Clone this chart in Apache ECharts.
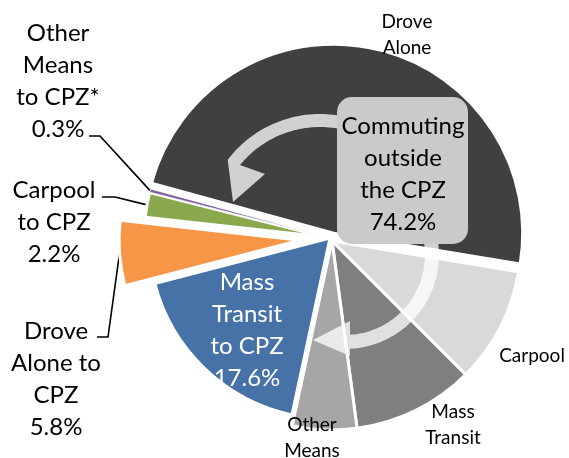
<!DOCTYPE html>
<html>
<head>
<meta charset="utf-8">
<script src="https://cdn.jsdelivr.net/npm/echarts@6/dist/echarts.min.js"></script>
<style>
html,body{margin:0;padding:0;background:#fff;}
#chart{width:569px;height:458px;}
</style>
</head>
<body>
<div id="chart"></div>
<script>
// ---- data ----
const categories = ['Drove Alone', 'Carpool', 'Mass Transit', 'Other Means',
  'Mass Transit to CPZ', 'Drove Alone to CPZ', 'Carpool to CPZ', 'Other Means to CPZ*'];
const shares = [48.4, 9.9, 10.4, 5.5, 17.6, 5.8, 2.2, 0.3];
const toCPZ = [false, false, false, false, true, true, true, true];
const labelLines = ['Drove\nAlone', 'Carpool', 'Mass\nTransit', 'Other\nMeans',
  'Mass\nTransit\nto CPZ', 'Drove\nAlone to\nCPZ', 'Carpool\nto CPZ', 'Other\nMeans\nto CPZ*'];
const outsideTitle = 'Commuting\noutside\nthe CPZ';

// ---- styles / layout ----
const sliceColors = ['#404040', '#d9d9d9', '#7f7f7f', '#a6a6a6', '#4672a8', '#f79646', '#8aa94f', '#7f63a1'];
const explode = [8, 0, 0, 0, 0, 30, 5, 5];
const START = 164.7;
const ringCenter = { outside: [332, 241], cpz: [330, 238] };
const ringRadius = { outside: 189, cpz: 181 };
const labelAt = [[407, 35], [532, 356], [453, 425], [312, 438], [247, 330], [56, 379], [54, 222], [58, 81]];
const leader = [null, null, null, null, null, [[108, 337], [97, 337]], [[115, 197], [102, 197]], [[100, 136], [89, 136]]];
const FONT = 'Lato';

const total = shares.reduce((a, b) => a + b, 0);
const outsideSum = shares.filter((v, i) => !toCPZ[i]).reduce((a, b) => a + b, 0);

function labelText(i) {
  return toCPZ[i] ? labelLines[i] + '\n' + shares[i].toFixed(1) + '%' : labelLines[i];
}

let cum = 0;
const series = categories.map((name, i) => {
  const startDeg = (360 - START) + cum / total * 360;
  const mid = (startDeg + shares[i] / total * 180) * Math.PI / 180;
  cum += shares[i];
  const base = toCPZ[i] ? ringCenter.cpz : ringCenter.outside;
  const center = [base[0] + explode[i] * Math.cos(mid), base[1] + explode[i] * Math.sin(mid)];
  const big = toCPZ[i];
  return {
    type: 'pie',
    silent: true,
    animation: false,
    startAngle: START,
    clockwise: true,
    center: center,
    radius: toCPZ[i] ? ringRadius.cpz : ringRadius.outside,
    avoidLabelOverlap: false,
    emphasis: { disabled: true },
    z: 2,
    data: categories.map((n, j) => ({
      name: n,
      value: shares[j],
      itemStyle: j === i
        ? { color: sliceColors[j], borderColor: '#ffffff', borderWidth: j === 7 ? 0.8 : 3 }
        : { color: 'rgba(0,0,0,0)', borderWidth: 0 },
      label: { show: j === i },
      labelLine: { show: j === i && !!leader[j] }
    })),
    label: {
      position: 'outside',
      formatter: (p) => labelText(p.dataIndex),
      fontFamily: FONT,
      fontSize: big ? 24 : 19,
      lineHeight: big ? 32 : 26,
      color: i === 4 ? '#ffffff' : '#000000',
      align: 'center'
    },
    labelLine: { length: 10, length2: 10, lineStyle: { color: '#000', width: 1.6 } },
    labelLayout: (p) => {
      const j = p.dataIndex;
      const pos = labelAt[j];
      const out = { x: pos[0], y: pos[1], align: 'center', verticalAlign: 'middle' };
      if (leader[j] && p.labelLinePoints) {
        out.labelLinePoints = [p.labelLinePoints[0], leader[j][0], leader[j][1]];
      }
      return out;
    }
  };
});

// ---- annotation arrows and box ----
function arcPts(cx, cy, r, a0, a1, n) {
  const pts = [];
  for (let k = 0; k <= n; k++) {
    const a = (a0 + (a1 - a0) * k / n) * Math.PI / 180;
    pts.push([cx + r * Math.cos(a), cy + r * Math.sin(a)]);
  }
  return pts;
}
const topArrow = [].concat(
  arcPts(320, 230, 116, 285, 217.3, 40),
  [[233, 202], [265, 174], [240, 165]],
  arcPts(320, 230, 103, 219.1, 285, 40)
);
const botArrow = [].concat(
  arcPts(345, 255, 94, -8, 87, 40),
  [[350, 356], [313, 340], [350, 321]],
  arcPts(345, 255, 80, 86.4, -8, 40)
);

const chart = echarts.init(document.getElementById('chart'), null, { renderer: 'canvas' });
chart.setOption({
  backgroundColor: '#ffffff',
  animation: false,
  series: series,
  graphic: [
    { type: 'polygon', shape: { points: topArrow }, style: { fill: 'rgba(255,255,255,0.76)' }, z: 100, silent: true },
    { type: 'polygon', shape: { points: botArrow }, style: { fill: 'rgba(255,255,255,0.76)' }, z: 100, silent: true },
    { type: 'rect', shape: { x: 337, y: 97, width: 131, height: 147, r: 15 }, style: { fill: '#cacaca' }, z: 101, silent: true },
    {
      type: 'text', x: 403, y: 174, z: 102, silent: true,
      style: {
        text: outsideTitle + '\n' + outsideSum.toFixed(1) + '%',
        fill: '#000', fontFamily: FONT, fontSize: 24, lineHeight: 32,
        align: 'center', verticalAlign: 'middle'
      }
    }
  ]
});
</script>
</body>
</html>
